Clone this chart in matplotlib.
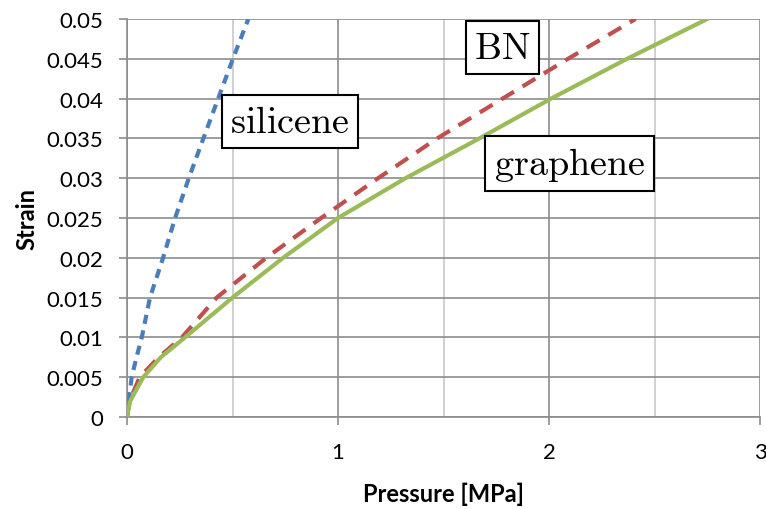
import matplotlib
matplotlib.use("Agg")
import matplotlib.pyplot as plt
from matplotlib.ticker import MultipleLocator, FuncFormatter

plt.rcParams['mathtext.fontset'] = 'cm'

# Data
silicene_p = [0, 0.004, 0.022, 0.045, 0.07, 0.109, 0.171, 0.228, 0.293, 0.362, 0.432, 0.502, 0.575]
silicene_s = [0, 0.001, 0.005, 0.0075, 0.01, 0.015, 0.02, 0.025, 0.03, 0.035, 0.04, 0.045, 0.05]

bn_p = [0, 0.012, 0.06, 0.15, 0.26, 0.425, 0.66, 0.92, 1.19, 1.47, 1.78, 2.09, 2.41]
bn_s = [0, 0.002, 0.005, 0.0075, 0.01, 0.015, 0.02, 0.025, 0.03, 0.035, 0.04, 0.045, 0.05]

gr_p = [0, 0.015, 0.077, 0.16, 0.275, 0.5, 0.74, 1.0, 1.32, 1.67, 2.01, 2.37, 2.75]
gr_s = [0, 0.002, 0.005, 0.0075, 0.01, 0.015, 0.02, 0.025, 0.03, 0.035, 0.04, 0.045, 0.05]

labels = ["silicene", "BN", "graphene"]
label_pos = [(0.772, 0.0371), (1.78, 0.0464), (2.097, 0.0318)]

fig = plt.figure(figsize=(7.66, 5.10), dpi=100)
ax = fig.add_axes([127/766, 1 - 418/510, (760-127)/766, (418-20)/510])

ax.plot(silicene_p, silicene_s, color='#4a7ebb', lw=3, dashes=(2.2, 1.6), zorder=3)
ax.plot(bn_p, bn_s, color='#c0504d', lw=3, dashes=(3.6, 2.4), zorder=3)
ax.plot(gr_p, gr_s, color='#9bbb59', lw=3, zorder=4)

ax.set_xlim(0, 3)
ax.set_ylim(0, 0.05)
ax.xaxis.set_major_locator(MultipleLocator(1))
ax.xaxis.set_minor_locator(MultipleLocator(0.5))
ax.yaxis.set_major_locator(MultipleLocator(0.005))

def yfmt(v, pos):
    if abs(v) < 1e-12:
        return "0"
    return ("%.3f" % v).rstrip('0')
ax.yaxis.set_major_formatter(FuncFormatter(yfmt))
ax.xaxis.set_major_formatter(FuncFormatter(lambda v, p: "%d" % round(v)))

ax.grid(True, which='major', color='#8c8c8c', lw=1.2, zorder=0)
ax.grid(True, which='minor', axis='x', color='#c8c8c8', lw=1.2, zorder=0)
ax.set_axisbelow(True)

for s in ['top', 'right']:
    ax.spines[s].set_visible(False)
for s in ['left', 'bottom']:
    ax.spines[s].set_color('#8c8c8c')
    ax.spines[s].set_linewidth(1.2)

ax.tick_params(axis='both', which='major', direction='out', length=6, width=1.2,
               color='#8c8c8c', labelsize=16)
ax.tick_params(axis='y', pad=11)
ax.tick_params(axis='x', pad=12)
ax.tick_params(axis='x', which='minor', length=0)
for lab in ax.get_xticklabels() + ax.get_yticklabels():
    lab.set_fontfamily('Lato')

ax.set_xlabel("Pressure [MPa]", fontsize=17, fontweight='bold', family='Lato', labelpad=14)
ax.set_ylabel("Strain", fontsize=17, fontweight='bold', family='Lato', labelpad=6)

for lab, (x, y) in zip(labels, label_pos):
    ax.text(x, y, r'$\mathrm{%s}$' % lab, fontsize=27.5, ha='center', va='center', zorder=5,
            bbox=dict(boxstyle='square,pad=0.22', fc='white', ec='black', lw=1.5))

fig.savefig("out.png", dpi=100)
